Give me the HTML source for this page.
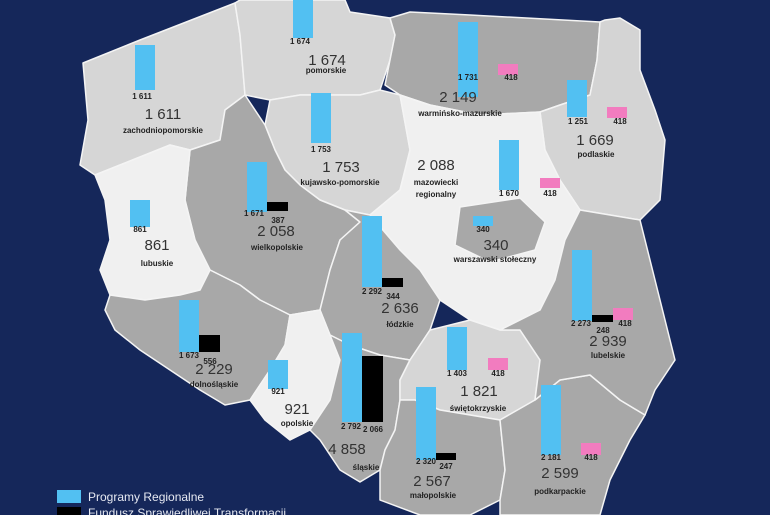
<!DOCTYPE html>
<html><head><meta charset="utf-8"><style>
body{margin:0;width:770px;height:515px;overflow:hidden;background:#15275a;}
svg{display:block}
text{font-family:"Liberation Sans",sans-serif;fill:#222;text-anchor:middle}
.s{font-size:8px;font-weight:bold}
.b{font-size:15px;fill:#333}
.n{font-size:8px;font-weight:bold}
</style></head><body>
<svg width="770" height="515" viewBox="0 0 770 515">
<rect width="770" height="515" fill="#15275a"/>
<g stroke="#f4f4f4" stroke-width="1.5" stroke-linejoin="round">
<polygon fill="#d6d6d6" points="83,63 140,40 235,3 240,35 245,95 225,110 220,140 190,150 170,145 120,165 95,175 80,165 88,120"/>
<polygon fill="#d6d6d6" points="235,3 240,0 345,0 350,12 390,18 395,35 390,60 380,90 360,95 300,95 270,100 245,95 240,35"/>
<polygon fill="#a8a8a8" points="390,18 410,12 470,15 600,22 597,60 590,95 560,105 540,112 480,115 430,105 400,95 385,85 395,35"/>
<polygon fill="#d4d4d4" points="600,22 605,20 620,18 640,30 640,70 655,110 665,140 660,200 640,220 610,215 580,210 560,180 545,150 540,112 560,105 590,95 597,60"/>
<polygon fill="#d6d6d6" points="270,100 300,95 360,95 380,90 400,95 410,150 400,190 370,215 345,210 320,200 300,185 285,170 275,150 265,125"/>
<polygon fill="#f0f0f0" points="400,95 430,105 480,115 540,112 545,150 560,180 580,210 565,240 555,280 540,310 500,330 470,320 440,300 420,270 400,250 370,215 400,190 410,150"/>
<polygon fill="#a8a8a8" points="460,207 520,198 545,222 535,250 490,262 455,245"/>
<polygon fill="#a8a8a8" points="190,150 220,140 225,110 245,95 265,125 275,150 285,170 300,185 320,200 345,210 360,222 340,240 330,270 320,310 290,315 260,300 240,285 210,270 195,240 185,200"/>
<polygon fill="#f0f0f0" points="95,175 120,165 170,145 190,150 185,200 195,240 210,270 200,290 180,295 145,300 110,295 100,270 110,240 105,200"/>
<polygon fill="#a8a8a8" points="345,210 370,215 400,250 420,270 440,300 430,330 410,360 380,355 350,345 330,335 320,310 330,270 340,240 360,222"/>
<polygon fill="#a8a8a8" points="110,295 145,300 180,295 200,290 210,270 240,285 260,300 290,315 285,345 270,370 250,400 225,405 200,390 170,370 140,350 115,330 105,310"/>
<polygon fill="#f0f0f0" points="290,315 320,310 330,335 340,360 330,400 310,430 290,440 265,420 250,400 270,370 285,345"/>
<polygon fill="#a8a8a8" points="330,335 350,345 380,355 410,360 400,380 400,400 395,430 385,450 380,470 360,482 340,470 320,440 310,430 330,400 340,360"/>
<polygon fill="#d6d6d6" points="410,360 430,330 470,320 500,330 520,330 540,360 535,400 500,420 470,415 440,410 415,400 400,400 400,380"/>
<polygon fill="#a8a8a8" points="400,400 415,400 440,410 470,415 500,420 505,470 500,500 470,515 420,515 380,500 380,470 385,450 395,430"/>
<polygon fill="#a8a8a8" points="500,420 535,400 560,380 590,375 620,400 645,415 630,440 610,480 600,515 500,515 500,500 505,470"/>
<polygon fill="#a8a8a8" points="540,310 555,280 565,240 580,210 610,215 640,220 650,260 660,300 675,360 655,390 645,415 620,400 590,375 560,380 535,400 540,360 520,330 500,330"/>
</g>
<g fill="#52c0f2">
<rect x="293" y="0" width="20" height="38"/><rect x="135" y="45" width="20" height="45"/>
<rect x="458" y="22" width="20" height="75"/><rect x="567" y="80" width="20" height="37"/>
<rect x="311" y="93" width="20" height="50"/><rect x="499" y="140" width="20" height="50"/>
<rect x="247" y="162" width="20" height="50"/><rect x="130" y="200" width="20" height="27"/>
<rect x="473" y="216" width="20" height="10"/><rect x="362" y="216" width="20" height="71"/>
<rect x="572" y="250" width="20" height="71"/><rect x="179" y="300" width="20" height="52"/>
<rect x="268" y="360" width="20" height="29"/><rect x="342" y="333" width="20" height="89"/>
<rect x="447" y="327" width="20" height="43"/><rect x="416" y="387" width="20" height="73"/>
<rect x="541" y="385" width="20" height="70"/>
</g>
<g fill="#000">
<rect x="267" y="202" width="21" height="9"/><rect x="382" y="278" width="21" height="9"/>
<rect x="592" y="315" width="21" height="7"/><rect x="199" y="335" width="21" height="17"/>
<rect x="362" y="356" width="21" height="66"/><rect x="436" y="453" width="20" height="7"/>
</g>
<g fill="#f27cbf">
<rect x="498" y="64" width="20" height="11"/><rect x="607" y="107" width="20" height="11"/>
<rect x="540" y="178" width="20" height="10"/><rect x="613" y="308" width="20" height="12"/>
<rect x="488" y="358" width="20" height="12"/><rect x="581" y="443" width="20" height="12"/>
</g>
<g class="s">
<text x="300" y="44" class="s">1 674</text><text x="142" y="99" class="s">1 611</text>
<text x="468" y="80" class="s">1 731</text><text x="511" y="80" class="s">418</text>
<text x="578" y="124" class="s">1 251</text><text x="620" y="124" class="s">418</text>
<text x="321" y="152" class="s">1 753</text><text x="509" y="196" class="s">1 670</text><text x="550" y="196" class="s">418</text>
<text x="254" y="216" class="s">1 671</text><text x="278" y="223" class="s">387</text>
<text x="140" y="232" class="s">861</text><text x="483" y="232" class="s">340</text>
<text x="372" y="294" class="s">2 292</text><text x="393" y="299" class="s">344</text>
<text x="581" y="326" class="s">2 273</text><text x="603" y="333" class="s">248</text><text x="625" y="326" class="s">418</text>
<text x="189" y="358" class="s">1 673</text><text x="210" y="364" class="s">556</text>
<text x="278" y="394" class="s">921</text><text x="457" y="376" class="s">1 403</text><text x="498" y="376" class="s">418</text>
<text x="351" y="429" class="s">2 792</text><text x="373" y="432" class="s">2 066</text>
<text x="426" y="464" class="s">2 320</text><text x="446" y="469" class="s">247</text>
<text x="551" y="460" class="s">2 181</text><text x="591" y="460" class="s">418</text>
</g>
<g class="b">
<text x="327" y="65" class="b">1 674</text><text x="163" y="119" class="b">1 611</text>
<text x="458" y="102" class="b">2 149</text><text x="595" y="145" class="b">1 669</text>
<text x="341" y="172" class="b">1 753</text><text x="436" y="170" class="b">2 088</text>
<text x="276" y="236" class="b">2 058</text><text x="157" y="250" class="b">861</text>
<text x="496" y="250" class="b">340</text><text x="400" y="313" class="b">2 636</text>
<text x="608" y="346" class="b">2 939</text><text x="214" y="374" class="b">2 229</text>
<text x="297" y="414" class="b">921</text><text x="479" y="396" class="b">1 821</text>
<text x="347" y="454" class="b">4 858</text><text x="432" y="486" class="b">2 567</text>
<text x="560" y="478" class="b">2 599</text>
</g>
<g class="n">
<text x="326" y="73" class="n">pomorskie</text><text x="163" y="133" class="n">zachodniopomorskie</text>
<text x="460" y="116" class="n">warmińsko-mazurskie</text><text x="596" y="157" class="n">podlaskie</text>
<text x="340" y="185" class="n">kujawsko-pomorskie</text><text x="436" y="185" class="n">mazowiecki</text>
<text x="436" y="197" class="n">regionalny</text><text x="277" y="250" class="n">wielkopolskie</text>
<text x="157" y="266" class="n">lubuskie</text><text x="495" y="262" class="n">warszawski stołeczny</text>
<text x="400" y="327" class="n">łódzkie</text><text x="608" y="358" class="n">lubelskie</text>
<text x="214" y="387" class="n">dolnośląskie</text><text x="297" y="426" class="n">opolskie</text>
<text x="478" y="411" class="n">świętokrzyskie</text><text x="366" y="470" class="n">śląskie</text>
<text x="433" y="498" class="n">małopolskie</text><text x="560" y="494" class="n">podkarpackie</text>
</g>
<rect x="57" y="490" width="24" height="13" fill="#52c0f2"/>
<rect x="57" y="507" width="24" height="13" fill="#000"/>
<text x="88" y="501" style="text-anchor:start;font-size:12px;fill:#e6e9f2">Programy Regionalne</text>
<text x="88" y="517" style="text-anchor:start;font-size:12px;fill:#e6e9f2">Fundusz Sprawiedliwej Transformacji</text>
</svg>
</body></html>
